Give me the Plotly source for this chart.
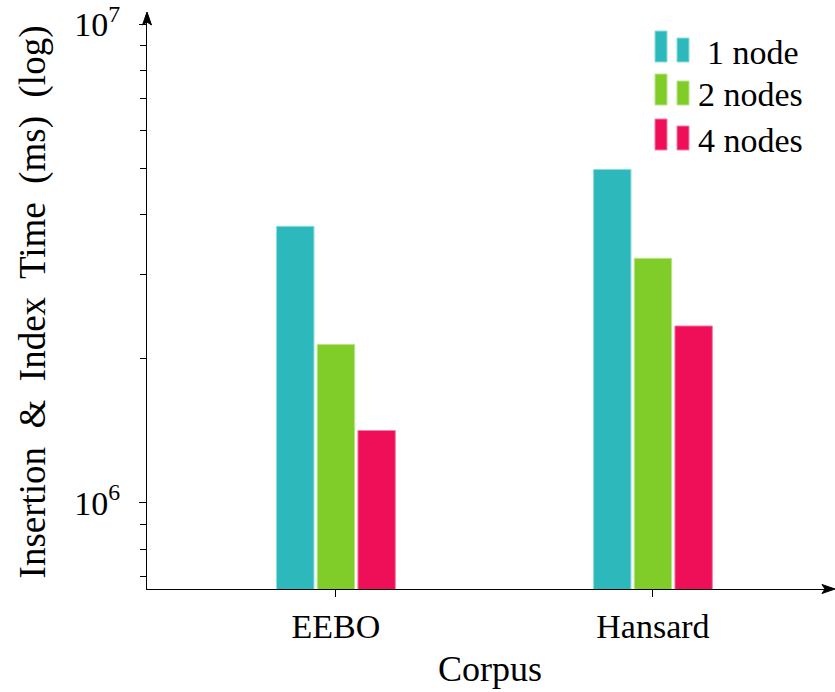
import plotly.graph_objects as go

# ---- data ----
corpora = ["EEBO", "Hansard"]
series_names = ["1 node", "2 nodes", "4 nodes"]
one_node = [3.78e6, 4.97e6]
two_nodes = [2.14e6, 3.24e6]
four_nodes = [1.415e6, 2.34e6]
series_values = [one_node, two_nodes, four_nodes]
colors = ["#2DB9BC", "#80CC28", "#EE0F58"]
edge_colors = ["#8EDCDE", "#B8E68A", "#F57FA6"]
y_major = [1e6, 1e7]
y_major_text = ["10<sup>6</sup>", "10<sup>7</sup>"]
y_minor = [7e5, 8e5, 9e5, 2e6, 3e6, 4e6, 5e6, 6e6, 7e6, 8e6, 9e6]
x_title = "Corpus"
y_title = "Insertion&nbsp; &amp;&nbsp; Index&nbsp; Time&nbsp; (ms)&nbsp; (log)"

FONT = "Liberation Serif, DejaVu Serif, serif"
W, H = 835, 692
L, R, T, B = 147, 2, 15, 103

fig = go.Figure()
for name, vals, c, ec in zip(series_names, series_values, colors, edge_colors):
    fig.add_trace(go.Bar(x=corpora, y=vals, name=name, marker_color=c,
                         marker_line=dict(color=ec, width=1), showlegend=False))

ylo, yhi = 5.8195, 7.019
fig.update_layout(
    width=W, height=H,
    margin=dict(l=L, r=R, t=T, b=B),
    paper_bgcolor="white", plot_bgcolor="white",
    barmode="group", bargap=0.615, bargroupgap=0.08,
    font=dict(family=FONT, size=34, color="black"),
    xaxis=dict(range=[-0.596, 1.568], showline=True, linecolor="black", linewidth=1.3,
               ticks="outside", ticklen=7, tickcolor="black", tickwidth=1,
               showgrid=False, zeroline=False,
               title=dict(text=x_title, font=dict(family=FONT, size=36), standoff=11),
               tickfont=dict(family=FONT, size=34)),
    yaxis=dict(type="log", range=[ylo, yhi], showline=True, linecolor="black", linewidth=1.3,
               tickmode="array", tickvals=y_major, ticktext=y_major_text,
               ticks="outside", ticklen=7, tickcolor="black", tickwidth=1,
               minor=dict(tickmode="array", tickvals=y_minor, ticks="outside",
                          ticklen=6, tickcolor="black", tickwidth=1, showgrid=False),
               showgrid=False, zeroline=False, ticklabelstandoff=12,
               title=dict(text=y_title, font=dict(family=FONT, size=37), standoff=17),
               tickfont=dict(family=FONT, size=34)),
    yaxis2=dict(type="log", range=[ylo, yhi], overlaying="y", side="left", anchor="x",
                tickmode="array", tickvals=y_major + y_minor,
                ticks="inside", ticklen=7, tickcolor="black", tickwidth=1,
                showticklabels=False, showline=False, showgrid=False, zeroline=False),
)

# helper: pixel -> paper coordinates
pw, ph = W - L - R, H - T - B
def px(x):
    return (x - L) / pw
def py(y):
    return (H - B - y) / ph

# axis arrow heads as filled triangles
def tri(points):
    d = "M " + " L ".join(f"{px(a)} {py(b)}" for a, b in points) + " Z"
    fig.add_shape(type="path", xref="paper", yref="paper", path=d,
                  fillcolor="black", line=dict(color="black", width=1))
tri([(147, 12), (142.5, 25), (147, 22), (151.5, 25)])
tri([(835, 589), (822, 584.5), (825, 589), (822, 593.5)])

# custom legend (pgfplots-style two-bar icons)
row_bottoms = [62, 105, 150]
text_x = [705, 696, 696]
for i, (name, c, ec) in enumerate(zip(series_names, colors, edge_colors)):
    yb = row_bottoms[i]
    fig.add_shape(type="rect", xref="paper", yref="paper",
                  x0=px(655), x1=px(667), y0=py(yb), y1=py(yb - 31),
                  fillcolor=c, line=dict(color=ec, width=1))
    fig.add_shape(type="rect", xref="paper", yref="paper",
                  x0=px(677), x1=px(689), y0=py(yb), y1=py(yb - 24),
                  fillcolor=c, line=dict(color=ec, width=1))
    fig.add_annotation(x=px(text_x[i]), y=py(yb - 10), xref="paper", yref="paper",
                       text=name, showarrow=False, xanchor="left", yanchor="middle",
                       font=dict(family=FONT, size=34, color="black"))

fig.write_html("out.html")
